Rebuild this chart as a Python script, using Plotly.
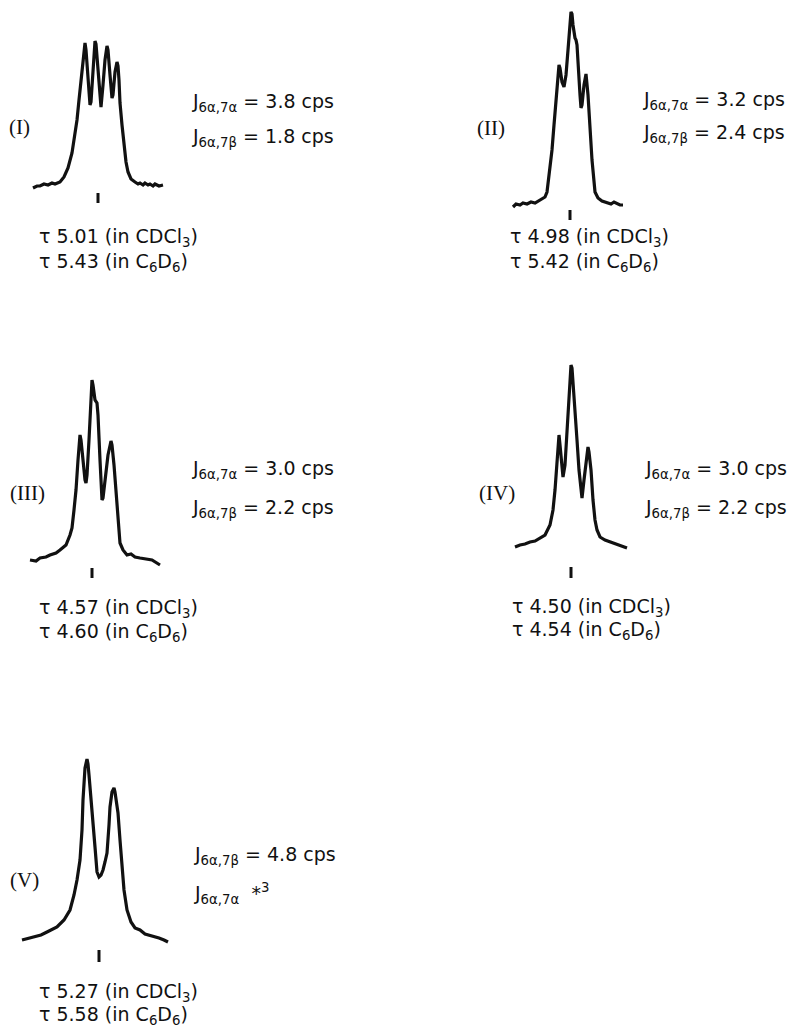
import plotly.graph_objects as go

W, H = 802, 1032

# ---- spectra (offset from the marked shift, intensity) ----
spec_I_x = [-65, -61, -58, -54, -50, -46, -43, -38, -34, -30, -26, -23, -21, -19, -17, -15, -13, -12, -10, -8, -7, -5, -3, -2, 0, 2, 3, 5, 7, 9, 10, 12, 14, 15, 17, 19, 20, 21, 22, 24, 26, 28, 30, 33, 37, 40, 42, 45, 47, 50, 52, 55, 57, 61, 65]
spec_I_y = [-2, 0, 0, 2, 1, 3, 2, 4, 9, 18, 33, 51, 66, 86, 106, 128, 143, 136, 106, 81, 84, 121, 145, 142, 116, 86, 79, 101, 126, 140, 136, 111, 88, 91, 114, 124, 120, 106, 83, 61, 41, 24, 14, 7, 4, 2, 3, 1, 3, 1, 2, 0, 2, 0, 1]

spec_II_x = [-57, -54, -50, -47, -43, -39, -35, -30, -25, -23, -21, -18, -16, -14, -12, -11, -10, -8, -6, -4, -2, 0, 1, 2, 3, 5, 6, 7, 8, 10, 11, 12, 14, 16, 18, 20, 22, 25, 28, 32, 36, 39, 41, 44, 46, 50, 53]
spec_II_y = [-2, 1, 0, 2, 1, 3, 2, 5, 8, 13, 30, 55, 80, 105, 130, 140, 137, 123, 118, 130, 155, 180, 193, 191, 180, 167, 165, 160, 140, 110, 97, 100, 120, 131, 110, 72, 45, 13, 7, 4, 3, 2, 1, 3, 2, 0, 0]

spec_III_x = [-62, -56, -52, -46, -42, -36, -32, -26, -22, -20, -18, -16, -14, -12, -11, -9, -7, -6, -5, -3, -1, 0, 1, 3, 5, 6, 8, 10, 11, 13, 16, 19, 20, 22, 24, 26, 28, 31, 35, 39, 43, 48, 53, 60, 68]
spec_III_y = [2, 1, 4, 5, 7, 9, 12, 17, 27, 34, 52, 72, 102, 127, 122, 97, 82, 79, 87, 122, 162, 182, 177, 162, 159, 147, 102, 62, 64, 82, 107, 121, 117, 97, 67, 37, 19, 12, 7, 8, 5, 4, 3, 2, -3]

spec_IV_x = [-56, -51, -46, -41, -36, -31, -26, -21, -18, -16, -14, -13, -12, -11, -9, -8, -6, -4, -2, 0, 1, 2, 4, 6, 8, 10, 11, 13, 15, 17, 18, 20, 22, 24, 26, 29, 34, 39, 44, 49, 56]
spec_IV_y = [-2, 0, 1, 3, 4, 7, 10, 20, 35, 55, 85, 105, 110, 100, 75, 68, 80, 115, 155, 180, 177, 160, 135, 105, 75, 55, 47, 65, 85, 98, 93, 75, 45, 25, 15, 8, 5, 3, 1, -1, -3]

spec_V_x = [-77, -70, -64, -58, -52, -42, -35, -29, -25, -22, -19, -17, -16, -15, -14, -12, -11, -10, -8, -6, -4, -2, 0, 2, 4, 6, 8, 10, 11, 13, 15, 16, 17, 19, 21, 23, 25, 28, 32, 36, 41, 46, 50, 55, 60, 65, 69]
spec_V_y = [0, 2, 4, 5, 8, 13, 20, 30, 45, 60, 80, 110, 140, 160, 172, 181, 176, 165, 143, 115, 93, 68, 63, 65, 70, 78, 87, 115, 133, 148, 152, 148, 140, 127, 100, 73, 50, 30, 18, 12, 10, 6, 5, 3, 2, 0, -2]

roman_labels = ["(I)", "(II)", "(III)", "(IV)", "(V)"]
j_first = ["J<sub>6α,7α</sub> = 3.8 cps", "J<sub>6α,7α</sub> = 3.2 cps",
           "J<sub>6α,7α</sub> = 3.0 cps", "J<sub>6α,7α</sub> = 3.0 cps",
           "J<sub>6α,7β</sub> = 4.8 cps"]
j_second = ["J<sub>6α,7β</sub> = 1.8 cps", "J<sub>6α,7β</sub> = 2.4 cps",
            "J<sub>6α,7β</sub> = 2.2 cps", "J<sub>6α,7β</sub> = 2.2 cps",
            "J<sub>6α,7α</sub>  *<sup>3</sup>"]
tau_cdcl3 = ["5.01", "4.98", "4.57", "4.50", "5.27"]
tau_c6d6 = ["5.43", "5.42", "4.60", "4.54", "5.58"]

spectra = [(spec_I_x, spec_I_y), (spec_II_x, spec_II_y), (spec_III_x, spec_III_y),
           (spec_IV_x, spec_IV_y), (spec_V_x, spec_V_y)]

# ---- layout of the five panels (pixels) ----
centers_x = [98, 570, 92, 571, 99]       # shift marker x
baselines_y = [186, 205, 562, 545, 940]   # baseline y
marker_gap = [(7, 17), (5, 15), (6, 16), (22, 33), (10, 22)]
label_pos = [(19, 127), (491, 128), (27, 493), (497, 493), (24, 880)]
j_pos = [(190, 103, 137), (641, 101, 133), (190, 470, 508), (643, 470, 508), (192, 855, 893)]
tau_pos = [(37, 238, 262), (508, 238, 262), (37, 608, 632), (510, 607, 630), (37, 992, 1015)]

HALF_W = 90
DOWN = 45

fig = go.Figure()
annotations = []
text_font = dict(family="'DejaVu Sans', sans-serif", size=19, color="#111")
serif_font = dict(family="'Liberation Serif', 'DejaVu Serif', serif", size=21, color="#111")

for i, (sx, sy) in enumerate(spectra):
    k = i + 1
    xa = "x" if k == 1 else f"x{k}"
    ya = "y" if k == 1 else f"y{k}"
    cx, by = centers_x[i], baselines_y[i]
    up = min(200, by - 1)
    xdom = [(cx - HALF_W) / W, (cx + HALF_W) / W]
    ydom = [1 - (by + DOWN) / H, 1 - (by - up) / H]
    axx = dict(domain=xdom, range=[-HALF_W, HALF_W], visible=False, showgrid=False, zeroline=False,
               anchor=ya)
    axy = dict(domain=ydom, range=[-DOWN, up], visible=False, showgrid=False, zeroline=False,
               anchor=xa)
    fig.layout["xaxis" if k == 1 else f"xaxis{k}"] = axx
    fig.layout["yaxis" if k == 1 else f"yaxis{k}"] = axy

    fig.add_trace(go.Scatter(x=sx, y=sy, mode="lines", xaxis=xa, yaxis=ya,
                             line=dict(color="#111", width=3.2), hoverinfo="skip",
                             showlegend=False, cliponaxis=False))
    g0, g1 = marker_gap[i]
    fig.add_trace(go.Scatter(x=[0, 0], y=[-g0, -g1], mode="lines", xaxis=xa, yaxis=ya,
                             line=dict(color="#111", width=3), hoverinfo="skip",
                             showlegend=False))

    lx, ly = label_pos[i]
    annotations.append(dict(text=roman_labels[i], x=lx / W, y=1 - ly / H, xref="paper", yref="paper",
                            xanchor="center", yanchor="middle", showarrow=False, font=serif_font))
    jx, jy1, jy2 = j_pos[i]
    annotations.append(dict(text=j_first[i], x=jx / W, y=1 - jy1 / H, xref="paper", yref="paper",
                            xanchor="left", yanchor="middle", showarrow=False, font=text_font))
    annotations.append(dict(text=j_second[i], x=jx / W, y=1 - jy2 / H, xref="paper", yref="paper",
                            xanchor="left", yanchor="middle", showarrow=False, font=text_font))
    tx, ty1, ty2 = tau_pos[i]
    annotations.append(dict(text=f"τ {tau_cdcl3[i]} (in CDCl<sub>3</sub>)", x=tx / W, y=1 - ty1 / H,
                            xref="paper", yref="paper", xanchor="left", yanchor="middle",
                            showarrow=False, font=text_font))
    annotations.append(dict(text=f"τ {tau_c6d6[i]} (in C<sub>6</sub>D<sub>6</sub>)", x=tx / W, y=1 - ty2 / H,
                            xref="paper", yref="paper", xanchor="left", yanchor="middle",
                            showarrow=False, font=text_font))

fig.update_layout(width=W, height=H, margin=dict(l=0, r=0, t=0, b=0),
                  paper_bgcolor="white", plot_bgcolor="rgba(0,0,0,0)",
                  annotations=annotations, showlegend=False)

fig.write_html("out.html", post_script="document.body.style.margin='0';",
               config={"displayModeBar": False})
